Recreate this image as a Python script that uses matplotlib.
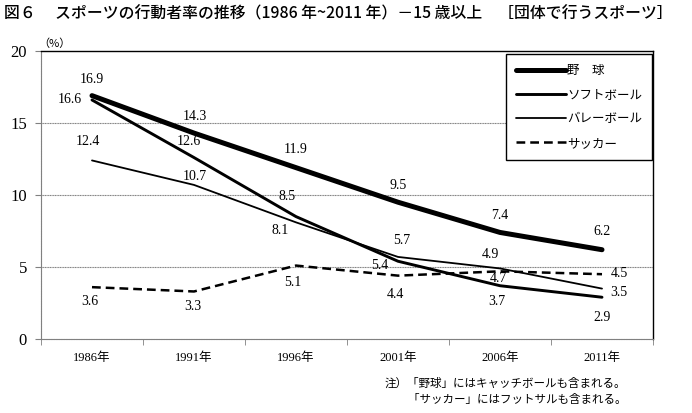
import numpy as np
import matplotlib
matplotlib.use("Agg")
import matplotlib.pyplot as plt

plt.rcParams['font.family'] = ['Noto Sans CJK JP', 'DejaVu Sans']
SERIF = ['Liberation Serif', 'Noto Sans CJK JP']

years = ['1986年', '1991年', '1996年', '2001年', '2006年', '2011年']
names = ['野　球', 'ソフトボール', 'バレーボール', 'サッカー']
baseball = [16.9, 14.3, 11.9, 9.5, 7.4, 6.2]
softball = [16.6, 12.6, 8.5, 5.4, 3.7, 2.9]
volleyball = [12.4, 10.7, 8.1, 5.7, 4.9, 3.5]
soccer = [3.6, 3.3, 5.1, 4.4, 4.7, 4.5]

series = [baseball, softball, volleyball, soccer]
widths = [3.6, 2.1, 1.3, 1.8]
styles = ['-', '-', '-', (0, (3.5, 2))]
# label offsets in pixels (dx, dy)
offsets = [
    [(0, 16), (1, 17), (0, 18), (0, 17), (0, 17), (0, 18)],
    [(-22, 0), (-5, 16), (-9, 20), (-18, -4), (-3, -16), (0, -20)],
    [(-4, 19), (1, 8), (-16, -8), (4, 16), (-10, 14), (17, -4)],
    [(-2, -14), (-1, -15), (-3, -17), (-3, -19), (-2, -7), (17, 1)],
]

fig = plt.figure(figsize=(6.92, 4.13), dpi=100)
ax = fig.add_axes([41 / 692, 1 - 339 / 413, (653 - 41) / 692, (339 - 51) / 413])

x = np.arange(len(years))
for vals, name, lw, ls, offs in zip(series, names, widths, styles, offsets):
    ax.plot(x, vals, color='black', lw=lw, linestyle=ls, label=name,
            solid_capstyle='round', dash_capstyle='butt')
    for xi, v, (dx, dy) in zip(x, vals, offs):
        ax.annotate(f'{v:.1f}', (xi, v), xytext=(dx, dy), textcoords='offset pixels',
                    ha='center', va='center', fontsize=10, family=SERIF)

ax.set_xlim(-0.5, len(years) - 0.5)
ax.set_ylim(0, 20)
ax.set_yticks([0, 5, 10, 15, 20])
ax.set_yticklabels(['0', '5', '10', '15', '20'], family=SERIF, fontsize=12)
ax.set_xticks(x)
ax.set_xticklabels(years, family=SERIF, fontsize=9)
ax.set_xticks(np.arange(len(years) + 1) - 0.5, minor=True)
ax.tick_params(axis='x', which='major', length=0, pad=9)
ax.tick_params(axis='x', which='minor', length=4, color='#808080')
ax.tick_params(axis='y', length=4, color='#808080', pad=6)

for yv in [5, 10, 15]:
    ax.axhline(yv, color='#808080', lw=0.8, ls=(0, (1, 0.5)), zorder=0)
for s in ['left', 'bottom']:
    ax.spines[s].set_color('#808080')
    ax.spines[s].set_linestyle((0, (1, 0.5)))
    ax.spines[s].set_linewidth(0.8)
for s in ['top', 'right']:
    ax.spines[s].set_color('black')
    ax.spines[s].set_linewidth(1.0)

leg = ax.legend(loc='upper right', bbox_to_anchor=(652 / 692, 1 - 54 / 413),
                bbox_transform=fig.transFigure, fancybox=False, framealpha=1,
                edgecolor='black', fontsize=9, handlelength=4, handletextpad=0.1,
                labelspacing=0.9, borderpad=0.8, borderaxespad=0)
leg.get_frame().set_linewidth(1.0)

fig.text(4 / 692, 1 - 14 / 413,
         '図６　 スポーツの行動者率の推移（1986 年~2011 年）－15 歳以上　［団体で行うスポーツ］',
         fontsize=11.4, va='center', ha='left', weight='medium')
fig.text(38 / 692, 1 - 44 / 413, '（%）', fontsize=8, va='center', ha='left')
fig.text(385 / 692, 1 - 383 / 413, '注）「野球」にはキャッチボールも含まれる。',
         fontsize=8.3, va='center', ha='left')
fig.text(385 / 692, 1 - 400 / 413, '　　「サッカー」にはフットサルも含まれる。',
         fontsize=8.3, va='center', ha='left')

fig.savefig('out.png', dpi=100)
